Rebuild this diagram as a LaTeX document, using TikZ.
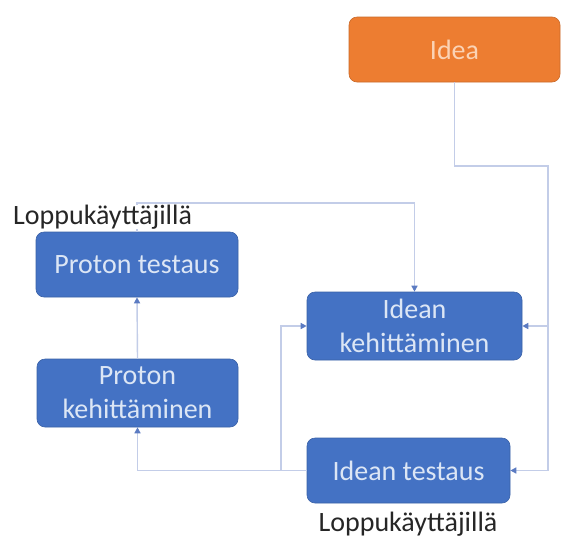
\documentclass[tikz,border=0pt]{standalone}
\usepackage{fontspec}
\setmainfont{Carlito}
\usetikzlibrary{arrows.meta}
\definecolor{boxblue}{HTML}{4472C4}
\definecolor{boxorange}{HTML}{ED7D31}
\definecolor{linkblue}{HTML}{C3CDE8}
\definecolor{tipblue}{HTML}{5B7BC2}
\definecolor{bluetext}{HTML}{DCE6F5}
\definecolor{orangetext}{HTML}{FBD3B5}
\definecolor{labelgray}{HTML}{262626}
\begin{document}
\begin{tikzpicture}[x=1pt,y=-1pt,
  stepbox/.style={rectangle, rounded corners=8pt, fill=boxblue, draw=boxblue!85!black, line width=0.6pt,
    text=bluetext, align=center, font=\fontsize{28}{34}\selectfont, inner sep=0pt},
  ideabox/.style={stepbox, fill=boxorange, draw=boxorange!85!black, text=orangetext},
  note/.style={text=labelgray, font=\fontsize{28}{34}\selectfont, inner sep=0pt},
  link/.style={draw=linkblue, line width=1.4pt,
    -{Triangle[length=6pt,width=6pt,color=tipblue]}}]
\useasboundingbox[fill=white] (0,0) rectangle (561,539);

% process boxes
\node[ideabox, minimum width=211pt, minimum height=65pt] (idea) at (454.5,49.5) {Idea};
\node[stepbox, minimum width=215pt, minimum height=68pt] (ik) at (414.5,326) {Idean\\kehittäminen};
\node[stepbox, minimum width=203pt, minimum height=65pt] (it) at (408.5,470.5) {Idean testaus};
\node[stepbox, minimum width=202pt, minimum height=65pt] (pt) at (137,264.5) {Proton testaus};
\node[stepbox, minimum width=201pt, minimum height=68pt] (pk) at (137.5,393) {Proton\\kehittäminen};

% routing points
\coordinate (r1) at (548,166);
\coordinate (r2) at (548,326);
\coordinate (l1) at (281,470.5);
\coordinate (top) at (137,203);

% connectors
\draw[link] (idea.south) |- (r1) |- (it.east);
\draw[link] (r2) -- (ik.east);
\draw[link] (it.west) -- (l1) |- (ik.west);
\draw[link] (l1) -| (pk.south);
\draw[link] (pk.north) -- (pt.south);
\draw[link] (pt.north) |- (top) -| (ik.north);

% user testing labels
\node[note, fill=white, anchor=west] (lab1) at (13,217) {Loppukäyttäjillä};
\node[note] (lab2) at (408,524) {Loppukäyttäjillä};
\end{tikzpicture}
\end{document}
